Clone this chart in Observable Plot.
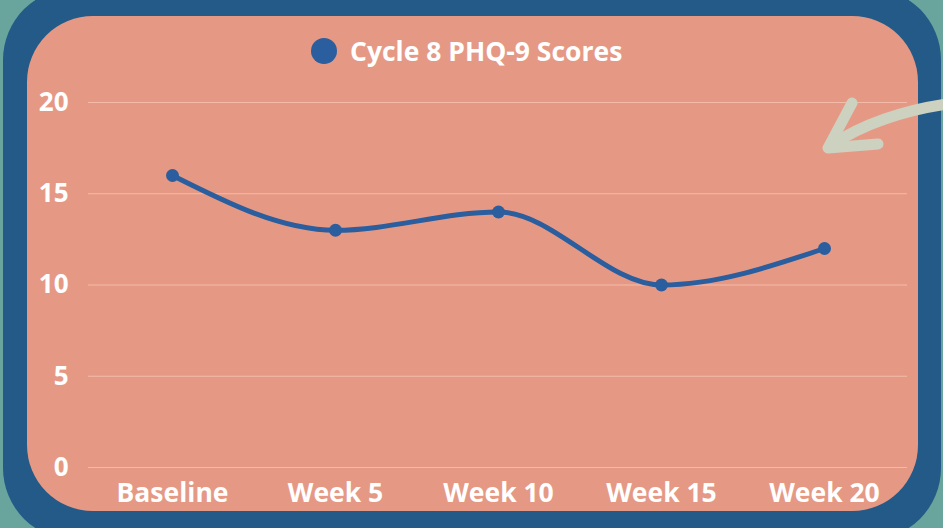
<!DOCTYPE html>
<html>
<head>
<meta charset="utf-8">
<script src="https://cdn.jsdelivr.net/npm/d3@7"></script>
<script src="https://cdn.jsdelivr.net/npm/@observablehq/plot@0.6"></script>
<style>
  html, body { margin: 0; padding: 0; }
  body { width: 943px; height: 528px; background: #69a59d; position: relative; overflow: hidden; font-family: "Open Sans", sans-serif; }
  #frame { position: absolute; left: 3px; top: -12px; width: 938px; height: 552px; background: #235a87; border-radius: 72px; }
  #panel { position: absolute; left: 27px; top: 16px; width: 891px; height: 495px; background: #e59984; border-radius: 66px; }
  #chart { position: absolute; left: 0; top: 0; }
  #legend { position: absolute; left: 311px; top: 33px; display: flex; align-items: center; color: #fff; font-weight: 700; font-size: 26.5px; }
  #legend .dot { width: 26px; height: 26px; border-radius: 50%; background: #2a5e9f; margin-right: 13px; }
  #arrow { position: absolute; left: 0; top: 0; }
</style>
</head>
<body>
<div id="frame"></div>
<div id="panel"></div>
<div id="chart"></div>
<div id="legend"><span class="dot"></span><span>Cycle 8 PHQ-9 Scores</span></div>
<svg id="arrow" width="943" height="528">
  <g fill="none" stroke="#cdd1c0" stroke-width="11" stroke-linecap="round" stroke-linejoin="round">
    <path d="M947,104 C905,110 862,124 830,146"/>
    <path d="M852,103 L828,148 L878,144"/>
  </g>
</svg>
<script>
const categories = ["Baseline", "Week 5", "Week 10", "Week 15", "Week 20"];
const scores = [16, 13, 14, 10, 12];
const yTicks = [0, 5, 10, 15, 20];
const seriesName = "Cycle 8 PHQ-9 Scores";

const data = categories.map((c, i) => ({week: c, score: scores[i]}));

const chart = Plot.plot({
  width: 943,
  height: 528,
  marginLeft: 88,
  marginRight: 36,
  marginTop: 102,
  marginBottom: 61,
  style: {background: "transparent", fontFamily: "Open Sans, sans-serif", overflow: "visible"},
  x: {type: "point", domain: categories, padding: 0.5, label: null},
  y: {domain: [0, 20], ticks: yTicks, label: null},
  marks: [
    Plot.gridY(yTicks, {stroke: "#f4bba9", strokeOpacity: 1, strokeWidth: 1}),
    Plot.axisY({ticks: yTicks, tickSize: 0, tickPadding: 20, fill: "#fff", fontSize: 26, fontWeight: 700, label: null}),
    Plot.axisX({tickSize: 0, tickPadding: 16, fill: "#fff", fontSize: 26.5, fontWeight: 700, label: null}),
    Plot.line(data, {x: "week", y: "score", stroke: "#2a5e9f", strokeWidth: 5, curve: "monotone-x"}),
    Plot.dot(data, {x: "week", y: "score", fill: "#2a5e9f", r: 6.5})
  ]
});
document.getElementById("chart").appendChild(chart);
</script>
</body>
</html>
